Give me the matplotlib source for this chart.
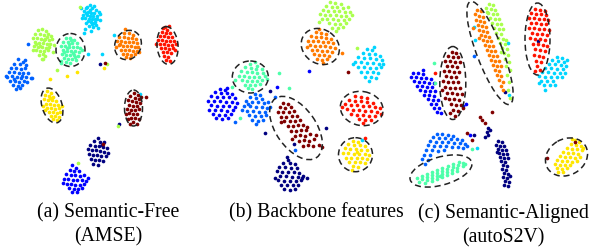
import matplotlib
matplotlib.use("Agg")
import matplotlib.pyplot as plt
from matplotlib.patches import Ellipse

# class order follows jet colormap: navy, blue, dodger, cyan, aqua, lime, yellow, orange, red, maroon
CLASSES = ["navy", "blue", "dodger", "cyan", "aqua", "lime", "yellow", "orange", "red", "maroon"]

# ---------- panel (a) points, panel-local pixel coords (x right, y down)
A_NAVY = "98,138 94,141 100,142 104,142 90,145 95,146 99,146 103,147 107,148 92,150 96,150 100,151 104,152 89,154 93,155 97,155 101,156 106,156 91,159 95,160 99,160 103,161 93,164 98,165 88,149 108,153 102,145 119,124 100,64"
A_BLUE = "72,165 76,168 70,170 74,171 79,171 66,174 71,175 75,175 80,176 84,175 64,179 68,179 73,180 77,180 82,180 86,181 67,184 71,184 75,185 80,185 84,184 69,188 74,189 78,189 82,188 72,192 77,192 63,183 88,178"
A_DODGER = "18,59 23,62 14,64 20,64 26,65 11,68 16,68 21,69 25,68 9,72 14,72 19,73 23,73 28,73 7,77 12,76 17,77 21,78 26,77 31,78 10,81 15,81 19,82 24,81 13,85 18,86 22,85 16,89 20,88 27,82 6,76 32,78 25,60 22,76 14,79 28,44"
A_CYAN = "90,5 86,8 92,8 96,10 84,11 88,12 91,13 94,13 99,12 83,15 87,15 90,16 93,16 97,16 85,18 89,19 92,19 95,19 88,21 91,22 86,23 94,23 100,14 82,18 89,26 93,27 96,25 85,29 91,31 98,28 84,33 87,7 94,6 81,8 95,22 90,10 86,13 97,19 92,24 100,20 102,54 88,54 114,35 140,94"
A_AQUA = "66,38 70,38 74,40 63,42 68,42 72,43 77,43 61,46 65,46 69,47 73,47 77,47 80,48 63,50 67,51 71,51 75,51 79,52 62,54 66,55 70,55 74,55 78,56 64,58 68,59 72,59 76,60 66,62 70,63 61,61 82,50 69,44 73,53 67,48 75,57 71,40 64,52 61,63"
A_LIME = "38,30 42,29 46,31 35,34 40,34 44,35 48,34 51,36 33,38 37,38 41,39 45,39 49,40 52,39 35,42 39,43 43,43 47,44 50,44 34,46 38,47 42,47 46,48 36,50 40,51 44,51 48,50 53,52 39,55 43,54 42,59 33,50 44,40 40,46 47,37 36,44 49,47 54,45 45,56 107,64 57,70 118,126 78,163 80,7 43,59"
A_YELLOW = "47,91 51,93 45,95 49,96 53,97 44,99 48,100 52,100 56,101 46,104 50,104 54,105 58,105 47,108 51,108 55,109 59,108 49,112 53,112 57,113 51,116 55,116 59,117 53,119 57,120 43,106 62,106 45,110 60,112 50,98 104,68 77,72 67,76 50,79"
A_ORANGE = "124,33 129,33 133,35 119,37 124,37 128,38 132,38 136,39 117,41 121,41 125,42 129,42 133,42 137,43 119,45 123,46 127,46 131,46 135,47 138,47 121,50 125,50 129,50 133,51 137,51 123,54 127,54 131,55 135,54 126,57 130,58 120,44 139,52 116,47 125,29"
A_RED = "165,27 167,30 162,32 166,33 170,33 160,36 164,36 168,37 172,37 158,40 162,40 166,41 170,41 174,41 160,44 164,44 168,45 172,45 176,44 161,48 165,48 169,49 173,48 163,52 167,52 171,53 164,56 168,57 166,60 170,61 156,44 175,50 163,28 169,26"
A_MAROON = "134,93 138,95 130,96 135,98 139,99 128,100 132,101 136,102 140,103 129,105 133,106 137,106 127,109 131,110 135,110 139,109 129,113 133,114 137,114 131,118 135,118 139,119 128,119 133,122 137,124 130,124 141,97 126,114 146,97 105,63 103,144"

# ---------- panel (b)
B_NAVY = "93,160 88,163 95,163 100,164 84,167 90,167 96,168 102,168 82,171 87,172 93,172 99,172 104,173 85,176 91,176 97,177 103,177 83,180 89,181 95,181 101,181 106,180 86,185 92,185 98,185 103,185 89,189 95,190 100,189 80,178 108,176 92,157 75,91 70,133 131,128 99,144 107,178 112,178"
B_BLUE = "25,89 30,90 20,92 26,93 32,93 37,94 16,96 22,97 28,97 34,97 40,98 13,101 19,101 25,101 31,102 37,102 42,103 16,105 22,106 28,106 34,106 40,107 14,110 20,110 26,110 32,111 38,110 18,114 24,115 30,115 36,114 27,119 33,118 21,118 114,71 82,87 32,88"
B_DODGER = "60,94 65,95 55,97 61,98 67,99 51,101 57,102 63,102 69,103 73,102 49,106 55,106 61,107 67,107 72,108 52,111 58,111 64,112 70,112 54,115 60,116 66,116 71,115 57,120 63,121 68,120 61,124 47,110 75,107 53,104 80,97 40,122 100,150"
B_CYAN = "172,49 177,50 168,53 174,54 180,54 185,56 163,57 169,58 175,58 181,59 187,60 160,62 166,62 172,63 178,63 184,64 163,67 169,67 175,68 181,68 186,67 166,72 172,72 178,72 183,73 170,77 176,77 181,78 174,81 158,64 188,64 179,47 167,140"
B_AQUA = "60,62 55,64 62,66 50,67 56,68 61,69 67,69 46,71 52,72 57,72 62,73 68,73 44,76 49,76 54,77 59,77 64,77 70,76 47,80 52,81 57,81 62,81 67,80 50,85 55,85 60,85 65,84 57,89 40,80 72,79 53,88 84,73 94,88 37,87 45,118"
B_LIME = "135,2 140,3 146,4 131,6 137,7 142,7 148,8 153,7 128,10 133,11 139,11 144,11 150,12 155,12 130,15 135,15 141,15 146,16 151,16 127,19 132,19 138,19 143,20 149,20 154,19 134,23 140,24 145,24 151,23 137,28 143,28 148,27 125,14 157,15 141,31 124,22 162,48"
B_YELLOW = "158,141 163,142 153,144 159,145 165,145 170,146 150,148 155,149 161,149 166,150 172,150 148,153 153,153 159,154 164,154 170,154 174,155 151,158 156,158 162,158 167,158 172,159 154,162 160,162 165,162 170,163 158,166 163,167 162,152 157,170"
B_ORANGE = "121,32 126,33 131,34 116,36 121,37 126,37 131,38 136,39 113,41 118,41 123,41 128,42 133,42 138,43 115,45 120,46 125,46 130,46 135,47 140,48 117,50 122,50 127,51 132,51 137,52 119,54 124,55 129,55 134,56 122,59 127,60 132,59 112,47 128,63 124,29 147,53"
B_RED = "160,96 166,97 172,98 154,100 160,101 166,101 172,102 178,103 150,104 156,105 162,105 168,106 174,106 180,107 185,108 152,109 158,110 164,110 170,111 176,111 182,112 156,114 162,115 168,115 174,116 180,116 164,119 170,120 176,120 147,107 186,114 168,123 170,138"
B_MAROON = "88,103 93,104 85,107 90,108 96,107 83,112 88,112 94,112 99,111 86,117 91,117 97,116 102,116 89,121 95,121 100,121 105,120 93,126 98,126 103,125 108,125 96,131 101,131 106,130 111,130 100,136 105,135 110,136 115,134 104,141 109,140 114,141 119,139 108,146 113,145 118,146 124,145 127,147 86,122 112,127 97,139 121,135 153,72"

# ---------- panel (c)
C_NAVY = "103,141 107,142 101,145 105,146 109,146 103,149 107,150 111,150 104,153 108,154 112,154 105,157 109,158 113,158 106,161 110,162 108,165 112,166 107,169 111,170 109,173 113,174 108,177 112,178 110,181 114,182 109,185 113,186 115,176 102,152 92,132 93,128 93,135 90,137 95,130 79,135 143,41 110,92"
C_BLUE = "18,73 23,73 28,74 16,77 21,77 26,78 31,78 36,79 19,81 24,82 29,82 34,83 39,83 22,86 27,86 32,87 37,87 25,90 30,91 35,91 40,91 29,95 34,95 39,96 33,99 38,100 43,100 36,104 41,104 39,108 44,108 42,112 46,113 68,106 71,104 28,70 75,135"
C_DODGER = "42,134 47,134 53,135 58,136 38,137 44,138 50,138 56,139 62,139 67,140 35,141 41,142 47,142 53,142 59,143 65,143 70,144 33,145 39,146 45,146 51,146 57,147 63,147 68,148 31,150 37,150 43,151 49,150 29,155 35,155 27,159 33,160 30,164 72,146 79,56"
C_CYAN = "162,57 167,58 157,60 163,61 169,62 154,64 160,64 166,65 171,66 150,68 156,68 162,69 168,69 147,72 153,72 159,73 165,73 170,73 144,76 150,77 156,77 162,77 167,77 146,81 152,81 158,81 149,85 155,85 150,90 144,83 172,60 160,85 79,27 80,40 113,43 114,95 82,148"
C_AQUA = "64,162 68,163 58,164 63,165 68,166 53,166 58,167 62,168 47,168 52,169 57,170 62,171 42,170 47,171 52,172 57,173 37,172 42,173 47,174 52,175 32,174 37,175 42,176 47,177 27,176 32,177 37,178 42,179 22,178 27,179 32,180 37,181 24,182 30,183 70,164 45,176 39,63 40,83 77,149"
C_LIME = "94,4 98,5 91,8 96,9 100,10 93,13 98,14 102,14 95,18 100,19 104,19 97,23 102,24 106,24 99,28 104,29 108,29 101,33 106,34 103,38 108,39 111,40 105,43 110,44 107,48 112,49 109,53 113,55 110,59 114,62 111,66 115,70 112,75 114,82 113,90 115,98 92,12 106,52"
C_YELLOW = "180,140 184,142 176,144 181,145 186,146 172,148 177,149 182,149 187,150 168,152 173,153 178,153 183,154 165,156 170,157 175,157 180,158 185,157 162,160 167,161 172,161 177,162 182,161 160,164 165,165 170,165 175,165 162,168 167,169 172,168 163,172 168,172 177,139 188,148"
C_ORANGE = "82,10 86,11 80,14 84,16 88,17 81,20 85,21 89,22 83,25 87,26 91,27 84,30 88,31 92,32 86,35 90,36 94,37 88,40 92,41 96,41 90,45 94,46 98,46 92,50 96,51 100,51 94,55 98,56 102,56 96,60 100,61 104,61 98,65 102,66 106,66 100,70 104,71 102,75 106,76 104,80 108,82 106,86 108,90 78,28 84,38"
C_RED = "140,9 145,10 150,11 136,13 141,14 146,14 151,15 134,18 139,18 144,19 149,19 153,20 136,23 141,23 146,24 151,24 134,28 139,28 144,29 149,29 154,30 137,33 142,34 147,34 152,35 135,38 140,39 145,39 150,40 138,44 143,44 148,45 152,46 140,49 145,50 150,51 139,55 144,56 148,57 141,61 146,62 142,66 145,70 140,71 40,73"
C_MAROON = "57,52 61,53 53,56 58,57 63,57 50,61 55,61 60,62 65,62 52,66 57,66 62,67 49,71 54,71 59,72 64,72 51,76 56,77 61,77 48,81 53,82 58,82 63,82 50,87 55,88 60,88 65,88 52,93 57,93 62,94 67,94 54,99 59,99 64,100 50,98 56,104 61,105 66,105 58,110 63,111 55,113 60,116 68,108 47,90 85,117 87,120 90,123 97,112 72,133 77,140 152,158 180,142"

# dashed cluster outlines: (cx, cy, width, height, angle) panel-local
A_ELLIPSES = [(70.5, 50, 29, 33, 0), (128, 45, 26, 30, 25), (167.5, 45.5, 21, 38, -5),
              (52, 105.5, 20, 36, -17), (133.5, 108, 18, 36, 0)]
B_ELLIPSES = [(55.3, 77, 36, 32, 0), (125.3, 46.5, 40, 34, 35), (101, 128, 72, 40, 55),
              (166.7, 108.5, 43, 34, 10), (160.5, 154.7, 34, 34, 0)]
C_ELLIPSES = [(95, 53, 110, 26, 69), (142.5, 39, 25, 72, 0), (57.8, 83, 26, 73, 0),
              (46, 171, 64, 28, -16), (171.5, 157, 44, 36, -30)]

CAPTIONS = ["(a) Semantic-Free\n(AMSE)", "(b) Backbone features", "(c) Semantic-Aligned\n(autoS2V)"]
CAPTION_X = [108, 316, 503]
PANEL_OFFSETS = [0, 195, 395]

PANELS = [
    [A_NAVY, A_BLUE, A_DODGER, A_CYAN, A_AQUA, A_LIME, A_YELLOW, A_ORANGE, A_RED, A_MAROON],
    [B_NAVY, B_BLUE, B_DODGER, B_CYAN, B_AQUA, B_LIME, B_YELLOW, B_ORANGE, B_RED, B_MAROON],
    [C_NAVY, C_BLUE, C_DODGER, C_CYAN, C_AQUA, C_LIME, C_YELLOW, C_ORANGE, C_RED, C_MAROON],
]
ELLIPSES = [A_ELLIPSES, B_ELLIPSES, C_ELLIPSES]


def parse(s):
    xs, ys = [], []
    for p in s.split():
        a, b = p.split(",")
        xs.append(float(a))
        ys.append(float(b))
    return xs, ys


W, H = 592, 252
fig = plt.figure(figsize=(W / 100, H / 100), dpi=100)
ax = fig.add_axes([0, 0, 1, 1])
ax.set_xlim(0, W)
ax.set_ylim(H, 0)
ax.axis("off")

cmap = plt.cm.jet
for off, clusters, ells in zip(PANEL_OFFSETS, PANELS, ELLIPSES):
    for ci, s in enumerate(clusters):
        xs, ys = parse(s)
        xs = [x + off for x in xs]
        ax.scatter(xs, ys, s=7, marker="o", color=cmap(ci / 9), linewidths=0, zorder=2)
    for (cx, cy, w, h, ang) in ells:
        e = Ellipse((cx + off, cy), w, h, angle=ang, fill=False, edgecolor="#222222",
                    linewidth=1.1, linestyle=(0, (4, 2.5)), zorder=3)
        ax.add_patch(e)

for txt, x in zip(CAPTIONS, CAPTION_X):
    ax.text(x, 203, txt, ha="center", va="top", fontsize=14.2,
            family="Liberation Serif", linespacing=1.37, color="black")

fig.savefig("out.png", dpi=100)
